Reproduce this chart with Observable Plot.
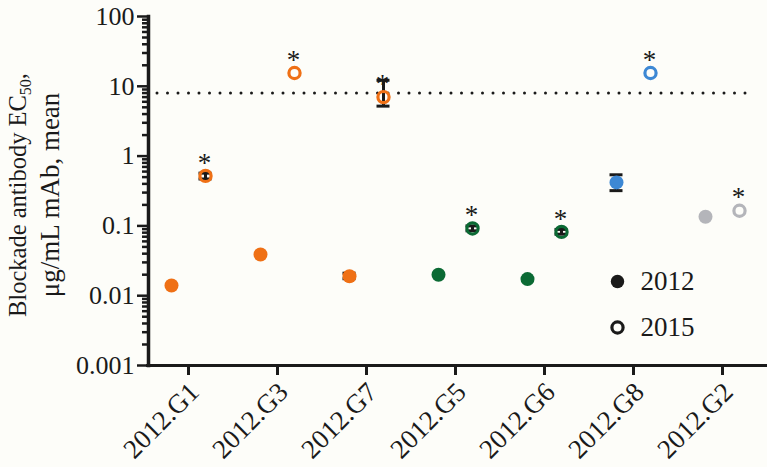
<!DOCTYPE html>
<html><head><meta charset="utf-8">
<script src="https://cdn.jsdelivr.net/npm/d3@7"></script>
<script src="https://cdn.jsdelivr.net/npm/@observablehq/plot@0.6"></script>
<style>
body{margin:0;background:#fdfdf9;}
#chart{width:767px;height:467px;}
</style></head><body><div id="chart"></div>
<script>
// ---- data ----
const groups = ["2012.G1","2012.G3","2012.G7","2012.G5","2012.G6","2012.G8","2012.G2"];
const years = ["2012","2015"];
const mean2012 = [0.014, 0.039, 0.019, 0.020, 0.0173, 0.42, 0.135];
const mean2015 = [0.52, 15.5, 7.0, 0.092, 0.082, 15.5, 0.165];
const errGroups = ["2012.G1","2012.G7","2012.G7","2012.G5","2012.G6","2012.G8"];
const errYears  = ["2015","2012","2015","2015","2015","2012"];
const errLow    = [0.47, 0.0175, 5.2, 0.085, 0.076, 0.32];
const errHigh   = [0.57, 0.021, 12.2, 0.100, 0.089, 0.54];
const threshold = 8;
const yTicks = [0.001, 0.01, 0.1, 1, 10, 100];
const yTickLabels = ["0.001","0.01","0.1","1","10","100"];
const groupColors = ["#ef7015","#ef7015","#ef7015","#0b6a34","#0b6a34","#3d88d4","#b4b5ba"];

// ---- tables ----
const p2012 = groups.map((g, i) => ({group: g, year: years[0], value: mean2012[i]}));
const p2015 = groups.map((g, i) => ({group: g, year: years[1], value: mean2015[i]}));
const errs = errGroups.map((g, i) => ({group: g, year: errYears[i], lo: errLow[i], hi: errHigh[i]}));
const e2012 = errs.filter(d => d.year === "2012");
const e2015 = errs.filter(d => d.year === "2015");
const minorTicks = yTicks.slice(0, -1).flatMap(d => d3.range(2, 10).map(k => d * k));

const OFF = 17, CAP = 6.5, INK = "#1a1a1a";
const errMarks = (data, dx) => [
  Plot.ruleX(data, {x: "group", y1: "lo", y2: "hi", dx, stroke: INK, strokeWidth: 3}),
  Plot.ruleY(data, {x1: "group", x2: "group", y: "hi", dx, insetLeft: -CAP, insetRight: -CAP, stroke: INK, strokeWidth: 3}),
  Plot.ruleY(data, {x1: "group", x2: "group", y: "lo", dx, insetLeft: -CAP, insetRight: -CAP, stroke: INK, strokeWidth: 3})
];

const chart = Plot.plot({
  width: 767,
  height: 467,
  marginLeft: 148,
  marginRight: 0,
  marginTop: 16,
  marginBottom: 102,
  style: {fontFamily: "Liberation Serif, serif", fontSize: "26px", background: "#fdfdf9", color: INK},
  x: {type: "point", domain: groups, padding: 0, insetLeft: 38, insetRight: 43, label: null},
  y: {type: "log", domain: [0.001, 100], label: null},
  color: {domain: groups, range: groupColors},
  marks: [
    Plot.ruleY([threshold], {stroke: INK, strokeWidth: 3, strokeDasharray: "0 10.5", strokeLinecap: "round", insetLeft: 9, insetRight: 12}),
    ...errMarks(e2012, -OFF),
    ...errMarks(e2015, OFF),
    Plot.dot(p2012, {x: "group", y: "value", fill: "group", r: 7, dx: -OFF}),
    Plot.dot(p2015, {x: "group", y: "value", stroke: "group", fill: "none", r: 5.6, strokeWidth: 3.2, dx: OFF}),
    Plot.text(p2015, {x: "group", y: "value", text: () => "*", dx: OFF - 1, dy: -13, fontSize: 27, fill: INK}),
    Plot.axisY(yTicks, {tickSize: 11, tickPadding: 3, strokeWidth: 2.5, stroke: INK, fill: INK, fontSize: 26, label: null,
      tickFormat: d => yTickLabels[yTicks.indexOf(d)]}),
    Plot.axisY(minorTicks, {tickSize: 6, strokeWidth: 2.5, stroke: INK, tickFormat: () => "", label: null}),
    Plot.axisX({tickSize: 10, strokeWidth: 3, stroke: INK, tickFormat: () => "", label: null}),
    Plot.axisX({tickSize: 0, tickPadding: 22, dx: 6, tickRotate: -45, fill: INK, fontSize: 27, label: null}),
    Plot.ruleY([0.001], {stroke: INK, strokeWidth: 3, insetLeft: -2}),
    Plot.frame({anchor: "left", stroke: INK, strokeWidth: 3.5}),
    // legend
    Plot.dot([years[0]], {frameAnchor: "top-left", dx: 469, dy: 265, r: 6.7, fill: INK}),
    Plot.dot([years[1]], {frameAnchor: "top-left", dx: 469, dy: 311, r: 5.6, stroke: INK, fill: "none", strokeWidth: 3.2}),
    Plot.text([years[0]], {frameAnchor: "top-left", dx: 492, dy: 265, text: d => d, textAnchor: "start", lineAnchor: "middle", fontSize: 27, fill: INK}),
    Plot.text([years[1]], {frameAnchor: "top-left", dx: 492, dy: 311, text: d => d, textAnchor: "start", lineAnchor: "middle", fontSize: 27, fill: INK})
  ]
});

// two-line rotated y label with subscript
const svg = d3.select(chart);
const yl1 = svg.append("text")
  .attr("transform", "translate(26,195) rotate(-90)")
  .attr("text-anchor", "middle").attr("font-size", 24.5).attr("fill", INK);
yl1.append("tspan").text("Blockade antibody EC");
yl1.append("tspan").attr("font-size", 16).attr("dy", 5).text("50");
yl1.append("tspan").attr("dy", -5).text(",");
svg.append("text")
  .attr("transform", "translate(59,195) rotate(-90)")
  .attr("text-anchor", "middle").attr("font-size", 27).attr("fill", INK)
  .text("μg/mL mAb, mean");

document.getElementById("chart").appendChild(chart);
</script>
</body></html>
